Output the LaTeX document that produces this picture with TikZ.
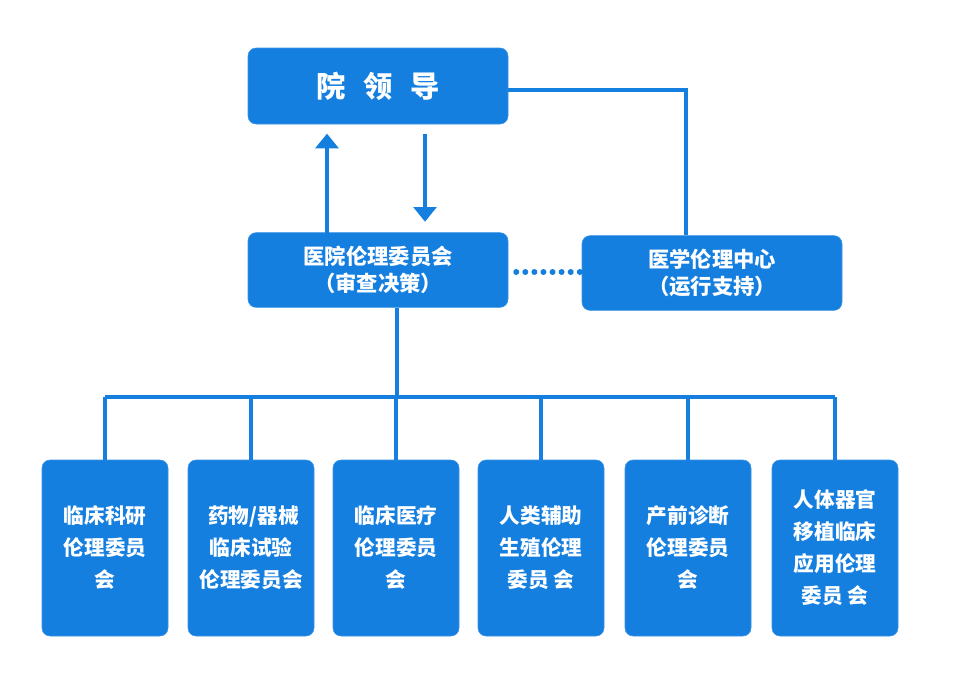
\documentclass[tikz,border=0pt]{standalone}
\usepackage{fontspec}
\setmainfont{Noto Sans CJK SC}
\usepackage{tikz}
\usetikzlibrary{positioning,arrows.meta}

\definecolor{orgblue}{RGB}{21,127,224}

\begin{document}
\begin{tikzpicture}[
  x=0.75pt, y=-0.75pt,
  font=\bfseries,
  box/.style={draw=orgblue!85!white, fill=orgblue, text=white, rounded corners=6pt, align=center, inner sep=2pt},
  lead/.style={box, minimum width=195pt, minimum height=57pt, font=\fontsize{22}{26}\selectfont\bfseries},
  mid/.style={box, minimum width=195pt, minimum height=56pt, font=\fontsize{16}{20.5}\selectfont\bfseries},
  sub/.style={box, minimum width=94.5pt, minimum height=132pt, font=\fontsize{15.5}{24}\selectfont\bfseries},
  line/.style={orgblue, line width=3pt},
  arr/.style={line, -{Triangle[length=11pt, width=17pt]}},
  dots/.style={orgblue, line width=4.5pt, line cap=round, dash pattern=on 0pt off 6.8pt},
]
\useasboundingbox (0,0) rectangle (960,697);
% top
\node[lead] (lead) at (378,86) {院\hspace{0.6em}领\hspace{0.6em}导};
% middle row
\node[mid] (comm) at (378,270) {医院伦理委员会\\（审查决策）};
\node[mid] (ctr) at (712,273) {医学伦理中心\\（运行支持）};
% committees
\node[sub] (c1) at (105,548) {临床科研\\伦理委员\\会};
\node[sub] (c2) at (251,548) {\ 药物/器械\\临床试验\\伦理委员会};
\node[sub] (c3) at (396,548) {临床医疗\\伦理委员\\会};
\node[sub] (c4) at (541,548) {人类辅助\\生殖伦理\\委员\ 会};
\node[sub] (c5) at (688,548) {产前诊断\\伦理委员\\会};
\node[sub] (c6) at (835,548) {人体器官\\移植临床\\应用伦理\\委员\ 会};
% arrows
\draw[arr] (comm.north -| 327,0) ++(0,-8pt) -- ([yshift=-7pt]lead.south -| 327,0);
\draw[arr] ([yshift=-7pt]lead.south -| 425,0) -- ([yshift=8pt]comm.north -| 425,0);
\draw[line] (lead.east |- 0,90) -| (ctr.north -| 686,0);
\draw[dots] ([xshift=6pt]comm.east |- 0,272) -- (ctr.west |- 0,272);
% tree
\coordinate (bus) at (397,397);
\draw[line] (comm.south -| bus) -- (bus);
\draw[line] (c1.north |- bus) -- (c6.north |- bus);
\draw[line] (c1.north |- bus) -- (c1.north);
\draw[line] (c2.north |- bus) -- (c2.north);
\draw[line] (c3.north |- bus) -- (c3.north);
\draw[line] (c4.north |- bus) -- (c4.north);
\draw[line] (c5.north |- bus) -- (c5.north);
\draw[line] (c6.north |- bus) -- (c6.north);
\end{tikzpicture}
\end{document}
